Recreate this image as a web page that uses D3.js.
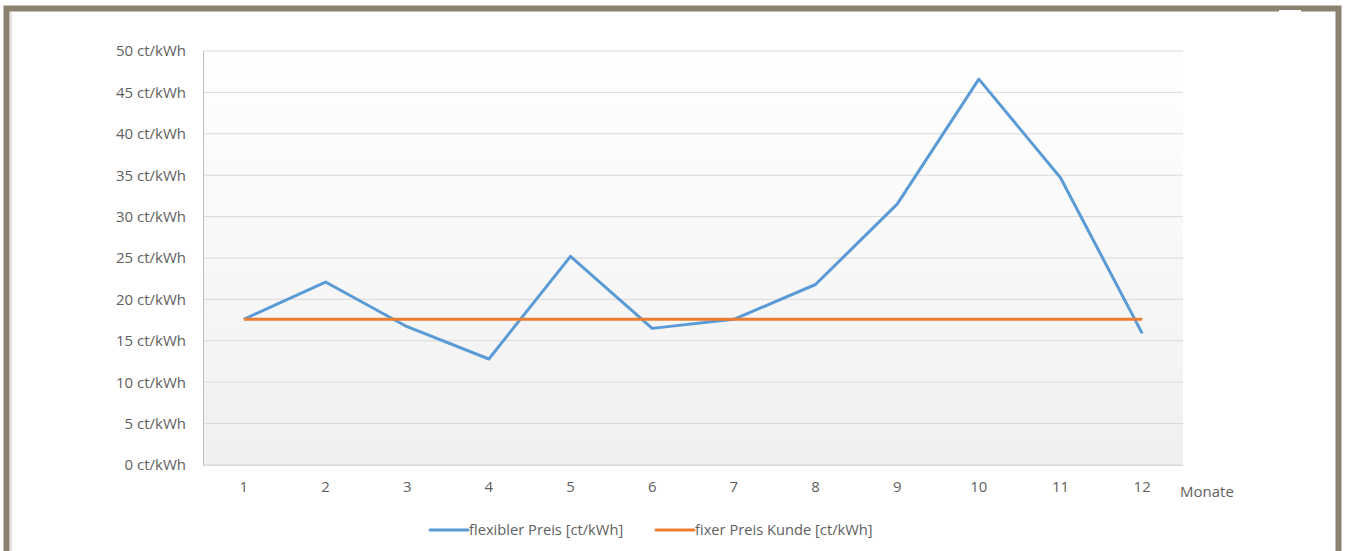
<!DOCTYPE html>
<html>
<head>
<meta charset="utf-8">
<script src="https://cdn.jsdelivr.net/npm/d3@7"></script>
<style>
  body { margin: 0; background: #fff; }
  text { font-family: "Open Sans", sans-serif; fill: #5f5f5f; }
</style>
</head>
<body>
<div id="chart"></div>
<script>
// monthly values
const months = ['1', '2', '3', '4', '5', '6', '7', '8', '9', '10', '11', '12'];
const flexPrice = [17.6, 22.1, 16.7, 12.8, 25.2, 16.5, 17.6, 21.8, 31.5, 46.6, 34.7, 15.9];
const fixPrice = [17.6, 17.6, 17.6, 17.6, 17.6, 17.6, 17.6, 17.6, 17.6, 17.6, 17.6, 17.6];
const yTicks = [0, 5, 10, 15, 20, 25, 30, 35, 40, 45, 50];
const seriesNames = ['flexibler Preis [ct/kWh]', 'fixer Preis Kunde [ct/kWh]'];
const seriesColors = ['#5b9bd5', '#ed7d31'];

drawChart();

function drawChart() {
    const width = 1347;
    const height = 551;
    const margin = { left: 203, right: 164, top: 51, bottom: 86 };

    const svg = d3.select('#chart')
        .append('svg')
        .attr('width', width)
        .attr('height', height);

    // frame
    svg.append('rect')
        .attr('x', 0).attr('y', 0)
        .attr('width', width).attr('height', height)
        .attr('fill', '#fff');
    svg.append('rect')
        .attr('x', 6.5).attr('y', 8.5)
        .attr('width', 1332).attr('height', 560)
        .attr('fill', 'none')
        .attr('stroke', '#8b8170')
        .attr('stroke-width', 6);
    svg.append('rect')
        .attr('x', 10).attr('y', 12)
        .attr('width', 2).attr('height', 540)
        .attr('fill', '#e3e3e3');
    svg.append('rect')
        .attr('x', 1279).attr('y', 10)
        .attr('width', 22).attr('height', 2)
        .attr('fill', '#fff');

    const x = d3.scaleBand()
        .domain(months)
        .range([margin.left, width - margin.right]);

    const y = d3.scaleLinear()
        .domain([0, 50])
        .range([height - margin.bottom, margin.top]);

    // plot background gradient
    const grad = svg.append('defs')
        .append('linearGradient')
        .attr('id', 'bg')
        .attr('x1', 0).attr('y1', 0).attr('x2', 0).attr('y2', 1);
    grad.append('stop').attr('offset', '0%').attr('stop-color', '#ffffff');
    grad.append('stop').attr('offset', '100%').attr('stop-color', '#f0f0f0');

    svg.append('rect')
        .attr('x', margin.left)
        .attr('y', y(50))
        .attr('width', x.range()[1] - margin.left)
        .attr('height', y(0) - y(50))
        .attr('fill', 'url(#bg)');

    // gridlines
    svg.append('g')
        .selectAll('line')
        .data(yTicks)
        .enter()
        .append('line')
        .attr('x1', margin.left)
        .attr('x2', x.range()[1])
        .attr('y1', d => y(d))
        .attr('y2', d => y(d))
        .attr('stroke', '#d9d9d9')
        .attr('stroke-width', 1);

    // y axis
    const yAxis = svg.append('g')
        .attr('transform', 'translate(' + margin.left + ',0)')
        .call(d3.axisLeft(y).tickValues(yTicks).tickSize(0).tickPadding(17)
            .tickFormat(d => d + ' ct/kWh'));
    yAxis.select('.domain').attr('stroke', '#bfbfbf');
    yAxis.selectAll('text')
        .style('font-size', '15px')
        .style('font-family', '"Open Sans", sans-serif')
        .attr('fill', '#5f5f5f');

    // x axis
    const xAxis = svg.append('g')
        .attr('transform', 'translate(0,' + y(0) + ')')
        .call(d3.axisBottom(x).tickSize(0).tickPadding(16));
    xAxis.select('.domain').attr('stroke', '#d9d9d9');
    xAxis.selectAll('text')
        .style('font-size', '15px')
        .style('font-family', '"Open Sans", sans-serif')
        .attr('fill', '#5f5f5f');

    svg.append('text')
        .attr('x', 1180)
        .attr('y', 497)
        .style('font-size', '15px')
        .text('Monate');

    // lines
    const line = d3.line()
        .x((d, i) => x(months[i]) + x.bandwidth() / 2)
        .y(d => y(d));

    [flexPrice, fixPrice].forEach(function (values, i) {
        svg.append('path')
            .datum(values)
            .attr('d', line)
            .attr('fill', 'none')
            .attr('stroke', seriesColors[i])
            .attr('stroke-width', 3)
            .attr('stroke-linejoin', 'round');
    });

    // legend
    const legendX = [430, 656];
    const legend = svg.append('g')
        .selectAll('g')
        .data(seriesNames)
        .enter()
        .append('g')
        .attr('transform', (d, i) => 'translate(' + legendX[i] + ',530)');
    legend.append('line')
        .attr('x1', 0).attr('x2', 38)
        .attr('stroke', (d, i) => seriesColors[i])
        .attr('stroke-width', 3)
        .attr('stroke-linecap', 'round');
    legend.append('text')
        .attr('x', 39)
        .attr('y', 5)
        .style('font-size', '14.7px')
        .text(d => d);
}
</script>
</body>
</html>
